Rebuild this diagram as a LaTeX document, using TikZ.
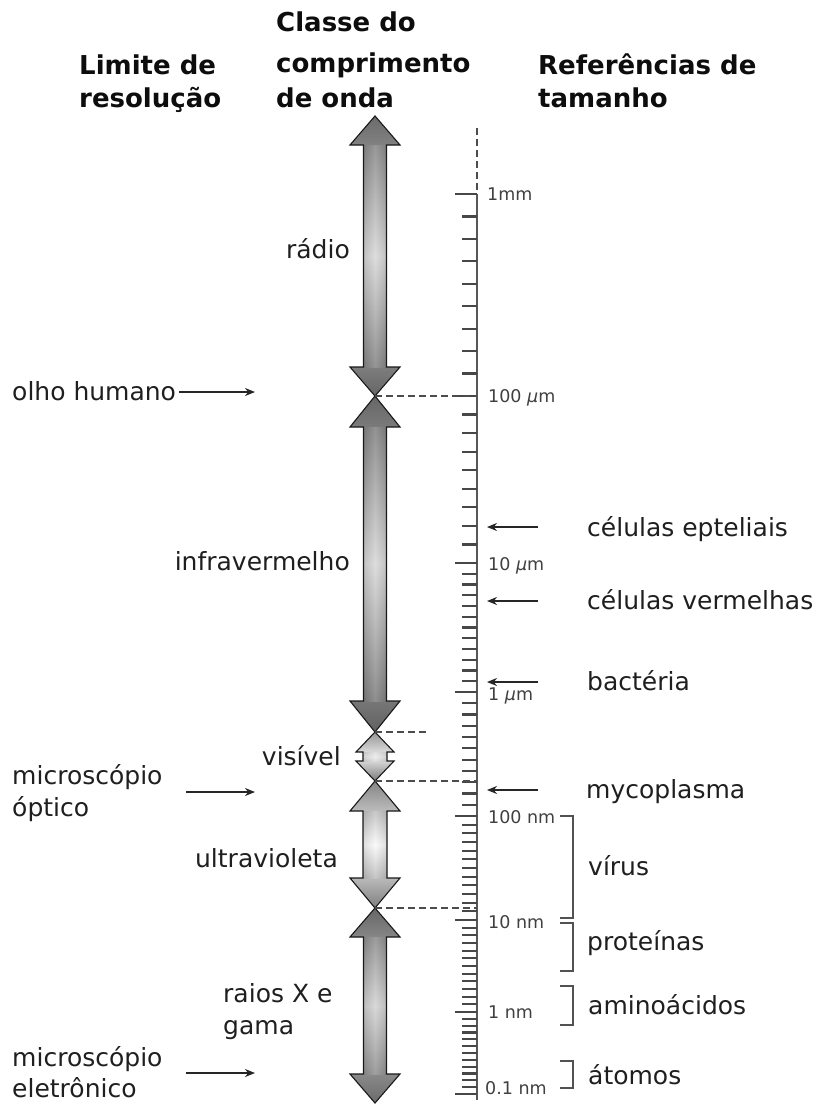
\documentclass[tikz,border=0pt]{standalone}
\usepackage{fontspec}
\setmainfont{DejaVu Sans}
\usetikzlibrary{arrows.meta}

% #1 x, #2 ytop, #3 ybot, #4 head length, #5 head half width, #6 shaft half width, #7 top, #8 middle, #9 bottom colour
\newcommand\dblarr[9]{%
  \def\arrpoly{(#1,#2) -- (#1+#5,#2+#4) -- (#1+#6,#2+#4) -- (#1+#6,#3-#4) -- (#1+#5,#3-#4)
    -- (#1,#3) -- (#1-#5,#3-#4) -- (#1-#6,#3-#4) -- (#1-#6,#2+#4) -- (#1-#5,#2+#4) -- cycle}%
  \path[top color=#7, bottom color=#9, middle color=#8] \arrpoly;
  \path[left color=black!60, right color=black!60, middle color=white, fill opacity=0.18]
    (#1-#6,#2+#4) rectangle (#1+#6,#3-#4);
  \draw[bandarrow] \arrpoly;}

\tikzset{
  hdrtxt/.style={font=\bfseries\fontsize{26}{30}\selectfont, text=black!95, anchor=base west, inner sep=0pt},
  lbl/.style={font=\fontsize{25}{30}\selectfont, text=black!88, inner sep=0pt},
  scltxt/.style={font=\fontsize{17.5}{18}\selectfont, text=black!75, anchor=base west, inner sep=0pt},
  refarrow/.style={-{Stealth[length=10pt,width=8pt]}, line width=1.8pt, draw=black!85},
  dashln/.style={dash pattern=on 7pt off 4pt, line width=1.8pt, draw=black!70},
  minortick/.style={line width=2.2pt, draw=black!72},
  bandarrow/.style={draw=black!90, line width=1.1pt},
  brk/.style={line width=2pt, draw=black!68},
}

\begin{document}
\begin{tikzpicture}[x=1pt,y=-1pt]
\fill[white] (0,0) rectangle (820,1104);
\useasboundingbox (0,0) rectangle (820,1104);

% ---------- headers
\node[hdrtxt] (h1a) at (79,74) {Limite de};
\node[hdrtxt] (h1b) at (79,107) {resolução};
\node[hdrtxt] (h2a) at (276,31) {Classe do};
\node[hdrtxt] (h2b) at (276,72) {comprimento};
\node[hdrtxt] (h2c) at (276,107) {de onda};
\node[hdrtxt] (h3a) at (538,74) {Referências de};
\node[hdrtxt] (h3b) at (538,107) {tamanho};

% ---------- band arrows
\def\ax{375}
\dblarr{\ax}{116}{396}{29}{25}{11.5}{black!58}{black!16}{black!60}
\dblarr{\ax}{396}{732}{31}{25}{11.5}{black!60}{black!16}{black!62}
\dblarr{\ax}{732}{781}{20}{19}{12}{black!42}{black!8}{black!52}
\dblarr{\ax}{781}{908}{30}{25}{12}{black!48}{black!2}{black!50}
\dblarr{\ax}{908}{1103}{29}{25}{11.5}{black!60}{black!18}{black!58}

\coordinate (j1) at (\ax,396);
\coordinate (j2) at (\ax,732);
\coordinate (j3) at (\ax,781);
\coordinate (j4) at (\ax,908);

% ---------- scale
\coordinate (stop) at (477,128);
\coordinate (s1mm) at (477,194);
\coordinate (sbot) at (477,1100);
\draw[dashln] (stop) -- (s1mm);
\draw[line width=2.2pt, draw=black!66] (s1mm) -- (sbot);

\foreach \ya/\yb/\n in {194/396/9, 396/563/9, 563/692/12, 692/816/11, 816/920/12, 920/1012/12, 1012/1094/12}{
  \draw[minortick] (455,\ya) -- (477,\ya);
  \pgfmathtruncatemacro\m{\n-1}
  \foreach \i in {1,...,\m}{
    \draw[minortick] (462,{\ya+(\yb-\ya)*\i/\n}) -- (477,{\ya+(\yb-\ya)*\i/\n});
  }
}
\draw[minortick] (455,1094) -- (477,1094);

% dashed boundaries
\coordinate (t396) at (477,396);
\coordinate (t732) at (426,732);
\coordinate (t781) at (477,781);
\coordinate (t908) at (477,908);
\draw[dashln] (j1) -- (t396);
\draw[dashln] (j2) -- (t732);
\draw[dashln] (j3) -- (t781);
\draw[dashln] (j4) -- (t908);

% scale labels
\node[scltxt] (l1mm) at (487,200) {1mm};
\node[scltxt] (l100um) at (488,402) {100 \textit{µ}m};
\node[scltxt] (l10um) at (488,570) {10 \textit{µ}m};
\node[scltxt] (l1um) at (488,700) {1 \textit{µ}m};
\node[scltxt] (l100nm) at (488,823) {100 nm};
\node[scltxt] (l10nm) at (488,928) {10 nm};
\node[scltxt] (l1nm) at (488,1018) {1 nm};
\node[scltxt] (l01nm) at (485,1094) {0.1 nm};

% ---------- wavelength class labels
\node[lbl, anchor=base east] (radio) at (350,258) {rádio};
\node[lbl, anchor=base east] (infra) at (350,570) {infravermelho};
\node[lbl, anchor=base east] (vis) at (341,765) {visível};
\node[lbl, anchor=base east] (uv) at (338,867) {ultravioleta};
\node[lbl, anchor=base west] (xa) at (223,1002) {raios X e};
\node[lbl, anchor=base west] (xb) at (223,1034) {gama};

% ---------- resolution limits
\node[lbl, anchor=base west] (olho) at (12,400) {olho humano};
\node[lbl, anchor=base west] (mo1) at (12,784) {microscópio};
\node[lbl, anchor=base west] (mo2) at (12,816) {óptico};
\node[lbl, anchor=base west] (me1) at (12,1066) {microscópio};
\node[lbl, anchor=base west] (me2) at (12,1097) {eletrônico};

\coordinate (oa) at (179,392);  \coordinate (ob) at (255,392);
\coordinate (moa) at (186,792); \coordinate (mob) at (255,792);
\coordinate (mea) at (186,1073);\coordinate (meb) at (255,1073);
\draw[refarrow] (oa) -- (ob);
\draw[refarrow] (moa) -- (mob);
\draw[refarrow] (mea) -- (meb);

% ---------- size references
\node[lbl, anchor=base west] (epit) at (587,536) {células epteliais};
\node[lbl, anchor=base west] (verm) at (587,609) {células vermelhas};
\node[lbl, anchor=base west] (bact) at (587,690) {bactéria};
\node[lbl, anchor=base west] (myco) at (586,798) {mycoplasma};
\node[lbl, anchor=base west] (virus) at (588,875) {vírus};
\node[lbl, anchor=base west] (prot) at (587,950) {proteínas};
\node[lbl, anchor=base west] (amino) at (588,1014) {aminoácidos};
\node[lbl, anchor=base west] (atom) at (588,1084) {átomos};

\coordinate (ea) at (538,527); \coordinate (eb) at (487,527);
\coordinate (va) at (538,601); \coordinate (vb) at (487,601);
\coordinate (ba) at (538,682); \coordinate (bb) at (487,682);
\coordinate (ma) at (538,790); \coordinate (mb) at (487,790);
\draw[refarrow] (ea) -- (eb);
\draw[refarrow] (va) -- (vb);
\draw[refarrow] (ba) -- (bb);
\draw[refarrow] (ma) -- (mb);

% brackets
\draw[brk] (560,816) -- (573,816) -- (573,918) -- (560,918);
\draw[brk] (560,923) -- (573,923) -- (573,971) -- (560,971);
\draw[brk] (560,986) -- (573,986) -- (573,1025) -- (560,1025);
\draw[brk] (560,1061) -- (573,1061) -- (573,1088) -- (560,1088);
\end{tikzpicture}
\end{document}
